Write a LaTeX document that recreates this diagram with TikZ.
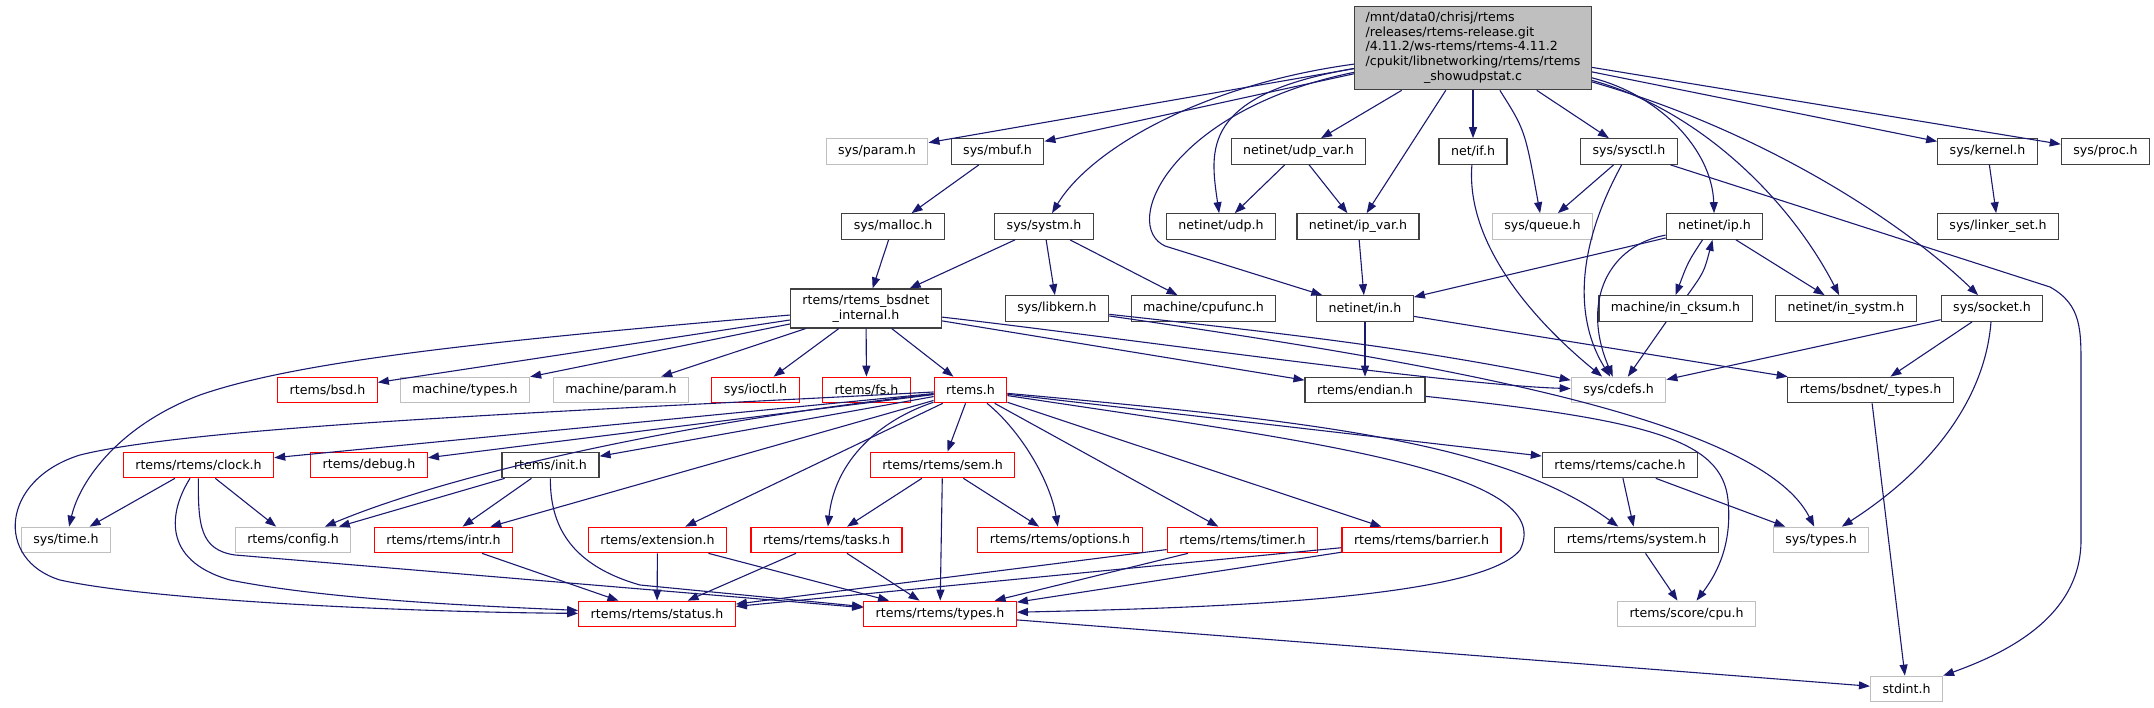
\documentclass[tikz,border=0pt]{standalone}
\usepackage{fontspec}
\setmainfont{DejaVu Sans}
\usepackage{xcolor}
\usepackage{tikz}
\usetikzlibrary{arrows.meta}
\definecolor{edgeblue}{HTML}{191970}
\definecolor{docline}{HTML}{404040}
\definecolor{nodocline}{HTML}{BFBFBF}
\definecolor{truncline}{HTML}{FF0000}
\definecolor{mainfill}{HTML}{BFBFBF}
\tikzstyle{hdr} = [rectangle, draw=docline, fill=white, line width=1.2pt, font=\fontsize{12.6}{14.7}\selectfont, inner xsep=12pt, inner ysep=0pt, minimum height=25.5pt]
\tikzstyle{hdrgray} = [hdr, draw=nodocline]
\tikzstyle{hdrred} = [hdr, draw=truncline]
\tikzstyle{srcfile} = [hdr, fill=mainfill, inner xsep=11pt, inner ysep=5pt, minimum height=0pt]
\tikzstyle{line} = [draw=edgeblue, line width=1.1pt, -{Triangle[length=11pt,width=8pt]}]

\begin{document}
\begin{tikzpicture}[x=1pt, y=-1pt]
\useasboundingbox (0,0) rectangle (2154,708);

\node [srcfile] (main) at (1473,48) {\begin{tabular}{@{}l@{}}/mnt/data0/chrisj/rtems\\/releases/rtems-release.git\\/4.11.2/ws-rtems/rtems-4.11.2\\/cpukit/libnetworking/rtems/rtems\\\multicolumn{1}{@{}c@{}}{\_showudpstat.c}\end{tabular}};

\node [hdrgray] (sysparam) at (877,151.5) {sys/param.h};
\node [hdr] (mbuf) at (997.5,151.5) {sys/mbuf.h};
\node [hdr] (udpvar) at (1298.5,151.5) {netinet/udp\_var.h};
\node [hdr] (netif) at (1473,151.5) {net/if.h};
\node [hdr] (sysctl) at (1629,151.5) {sys/sysctl.h};
\node [hdr] (kernel) at (1987.5,151.5) {sys/kernel.h};
\node [hdr] (proc) at (2105.5,151.5) {sys/proc.h};

\node [hdr] (malloc) at (893,226.5) {sys/malloc.h};
\node [hdr] (systm) at (1044,226.5) {sys/systm.h};
\node [hdr] (udp) at (1221,226.5) {netinet/udp.h};
\node [hdr] (ipvar) at (1358,226.5) {netinet/ip\_var.h};
\node [hdrgray] (queue) at (1542.5,226.5) {sys/queue.h};
\node [hdr] (ip) at (1714.5,226.5) {netinet/ip.h};
\node [hdr] (linkerset) at (1998,226.5) {sys/linker\_set.h};

\node [hdr, align=center, minimum height=39pt] (bsdnet) at (866,308.5) {rtems/rtems\_bsdnet\\\_internal.h};
\node [hdr] (libkern) at (1057,308.5) {sys/libkern.h};
\node [hdr] (cpufunc) at (1203.5,308.5) {machine/cpufunc.h};
\node [hdr] (netin) at (1365,308.5) {netinet/in.h};
\node [hdr] (cksum) at (1675.5,308.5) {machine/in\_cksum.h};
\node [hdr] (insystm) at (1846,308.5) {netinet/in\_systm.h};
\node [hdr] (socket) at (1992,308.5) {sys/socket.h};

\node [hdrred] (bsd) at (327.5,390) {rtems/bsd.h};
\node [hdrgray] (mtypes) at (465,390) {machine/types.h};
\node [hdrgray] (mparam) at (621,390) {machine/param.h};
\node [hdrred] (ioctl) at (755.5,390) {sys/ioctl.h};
\node [hdrred] (fs) at (866.5,390) {rtems/fs.h};
\node [hdrred] (rtemsh) at (970.5,390) {rtems.h};
\node [hdr] (endian) at (1365,390) {rtems/endian.h};
\node [hdrgray] (cdefs) at (1618.5,390) {sys/cdefs.h};
\node [hdr] (bsdtypes) at (1870.5,390) {rtems/bsdnet/\_types.h};

\node [hdrred] (clock) at (198.5,465) {rtems/rtems/clock.h};
\node [hdrred] (debug) at (369,465) {rtems/debug.h};
\node [hdr] (init) at (550.5,465) {rtems/init.h};
\node [hdrred] (sem) at (942.5,465) {rtems/rtems/sem.h};
\node [hdr] (cache) at (1620,465) {rtems/rtems/cache.h};

\node [hdrgray] (systime) at (66,540) {sys/time.h};
\node [hdrgray] (config) at (293,540) {rtems/config.h};
\node [hdrred] (intr) at (443.5,540) {rtems/rtems/intr.h};
\node [hdrred] (extension) at (657.5,540) {rtems/extension.h};
\node [hdrred] (tasks) at (826.5,540) {rtems/rtems/tasks.h};
\node [hdrred] (options) at (1060,540) {rtems/rtems/options.h};
\node [hdrred] (timer) at (1242.5,540) {rtems/rtems/timer.h};
\node [hdrred] (barrier) at (1421.5,540) {rtems/rtems/barrier.h};
\node [hdr] (system) at (1636.5,540) {rtems/rtems/system.h};
\node [hdrgray] (systypes) at (1821,540) {sys/types.h};

\node [hdrred] (status) at (657,614) {rtems/rtems/status.h};
\node [hdrred] (types) at (940,614) {rtems/rtems/types.h};
\node [hdrgray] (cpu) at (1686.5,614) {rtems/score/cpu.h};

\node [hdrgray] (stdint) at (1906.5,689) {stdint.h};

% includes of the source file
\path [line] (main) -- (sysparam);
\path [line] (main) -- (mbuf);
\path [line] (main) .. controls (1200,85) and (1090,150) .. (systm);
\path [line] (main) .. controls (1170,110) and (1120,225) .. (1165,246) -- (netin);
\path [line] (main) .. controls (1200,95) and (1210,150) .. (udp);
\path [line] (main) -- (udpvar);
\path [line] (main) -- (ipvar);
\path [line] (main) -- (netif);
\path [line] (main) .. controls (1525,130) .. (queue);
\path [line] (main) -- (sysctl);
\path [line] (main) .. controls (1660,95) and (1712,150) .. (ip);
\path [line] (main) .. controls (1700,110) and (1790,200) .. (insystm);
\path [line] (main) .. controls (1760,130) and (1900,220) .. (socket);
\path [line] (main) -- (kernel);
\path [line] (main) -- (proc);

\path [line] (mbuf) -- (malloc);
\path [line] (malloc) -- (bsdnet);
\path [line] (systm) -- (bsdnet);
\path [line] (systm) -- (libkern);
\path [line] (systm) -- (cpufunc);
\path [line] (udpvar) -- (udp);
\path [line] (udpvar) -- (ipvar);
\path [line] (ipvar) -- (netin);
\path [line] (netif) .. controls (1465,250) and (1545,330) .. (cdefs);
\path [line] (sysctl) -- (queue);
\path [line] (sysctl) .. controls (1575,250) and (1575,320) .. (cdefs);
\path [line] (sysctl) -- (2050,287) .. controls (2082,305) and (2081,330) .. (2081,370) -- (2081,540) .. controls (2081,620) and (2000,655) .. (stdint);
\path [line] (ip) -- (netin);
\path [line] (ip) .. controls (1610,245) and (1580,300) .. (cdefs);
\path [line] ([xshift=-12pt]ip.south) .. controls (1688,262) .. (cksum.north);
\path [line] ([xshift=12pt]cksum.north) .. controls (1704,272) .. ([xshift=-2pt]ip.south);
\path [line] (ip) -- (insystm);
\path [line] (cksum) -- (cdefs);
\path [line] (kernel) -- (linkerset);
\path [line] (socket) -- (cdefs);
\path [line] (socket) -- (bsdtypes);
\path [line] (socket) .. controls (1985,400) and (1930,470) .. (systypes);
\path [line] (netin) -- (endian);
\path [line] (netin) -- (bsdtypes);
\path [line] (bsdtypes) -- (stdint);
\path [line] (libkern) .. controls (1250,330) and (1400,345) .. (cdefs);
\path [line] (bsdnet) .. controls (1100,335) and (1450,385) .. (cdefs);
\path [line] (libkern) .. controls (1450,365) and (1760,420) .. (systypes);
\path [line] (endian) .. controls (1650,420) and (1722,440) .. (1728,500) .. controls (1733,550) and (1712,580) .. (cpu);
\path [line] (cache) -- (system);
\path [line] (cache) -- (systypes);
\path [line] (system) -- (cpu);

% rtems_bsdnet_internal.h
\path [line] (bsdnet) .. controls (500,340) and (300,360) .. (200,395) .. controls (120,425) and (80,480) .. (systime);
\path [line] (bsdnet) -- (bsd);
\path [line] (bsdnet) -- (mtypes);
\path [line] (bsdnet) -- (mparam);
\path [line] (bsdnet) -- (ioctl);
\path [line] (bsdnet) -- (fs);
\path [line] (bsdnet) -- (rtemsh);
\path [line] (bsdnet) -- (endian);

% rtems.h
\path [line] (rtemsh) .. controls (600,410) and (200,425) .. (80,455) .. controls (0,480) and (-5,560) .. (60,580) .. controls (150,600) and (400,612) .. (status);
\path [line] (rtemsh) -- (clock);
\path [line] (rtemsh) -- (debug);
\path [line] (rtemsh) -- (init);
\path [line] (rtemsh) .. controls (700,420) and (460,470) .. (config);
\path [line] (rtemsh) -- (intr);
\path [line] (rtemsh) -- (extension);
\path [line] (rtemsh) .. controls (880,420) and (835,460) .. (tasks);
\path [line] (rtemsh) -- (sem);
\path [line] (rtemsh) .. controls (1020,430) and (1050,480) .. (options);
\path [line] (rtemsh) -- (timer);
\path [line] (rtemsh) -- (barrier);
\path [line] (rtemsh) -- (cache);
\path [line] (rtemsh) .. controls (1300,420) and (1500,440) .. (system);
\path [line] (rtemsh) .. controls (1300,440) and (1560,470) .. (1520,550) .. controls (1480,600) and (1200,608) .. (types);

\path [line] (clock) -- (systime);
\path [line] (clock) -- (config);
\path [line] (clock) .. controls (170,510) and (160,560) .. (230,580) .. controls (330,600) and (480,606) .. (status);
\path [line] (clock) .. controls (198,525) and (200,550) .. (235,555) -- (types);
\path [line] (init) -- (config);
\path [line] (init) -- (intr);
\path [line] (init) .. controls (550,525) and (570,565) .. (640,585) -- (types);
\path [line] (intr) -- (status);
\path [line] (extension) -- (status);
\path [line] (extension) -- (types);
\path [line] (tasks) -- (status);
\path [line] (tasks) -- (types);
\path [line] (sem) -- (tasks);
\path [line] (sem) -- (types);
\path [line] (sem) -- (options);
\path [line] (timer) -- (status);
\path [line] (timer) -- (types);
\path [line] (barrier) -- (status);
\path [line] (barrier) -- (types);
\path [line] (types) -- (stdint);

\end{tikzpicture}
\end{document}
